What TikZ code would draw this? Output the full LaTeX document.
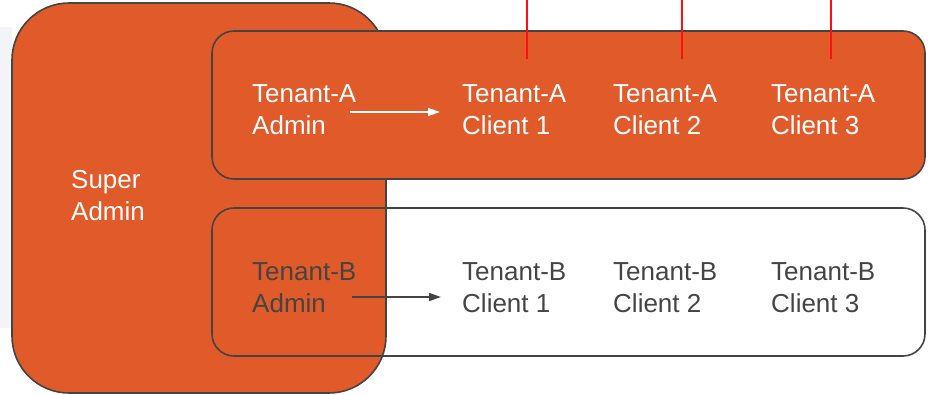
\documentclass[tikz,border=0pt]{standalone}
\usepackage{fontspec}
\setmainfont{Liberation Sans}
\usetikzlibrary{arrows.meta}
\definecolor{boxorange}{HTML}{E05A2A}
\definecolor{edgegray}{HTML}{444444}
\definecolor{txtgray}{HTML}{444444}
\definecolor{faintbg}{HTML}{F3F4F8}
\definecolor{redline}{HTML}{FF1010}
\begin{document}
\begin{tikzpicture}[x=1pt,y=-1pt,
  lbl/.style={anchor=west,inner sep=0pt,align=left,font=\fontsize{26}{32}\selectfont},
  wlbl/.style={lbl,text=white},
  glbl/.style={lbl,text=txtgray},
  panel/.style={draw=edgegray,line width=1.6pt,rounded corners=22pt,minimum width=713pt,minimum height=148pt,inner sep=0pt},
  flow/.style={line width=1.5pt,-{Triangle[length=12pt,width=8pt]}},
  probe/.style={draw=redline,line width=1.6pt}]
\useasboundingbox (0,0) rectangle (928,394);
\fill[faintbg] (0,27) rectangle (12,328);
% Super Admin block
\node[fill=boxorange,draw=edgegray,line width=1.6pt,rounded corners=57pt,
  minimum width=374pt,minimum height=390pt,inner sep=0pt] (super) at (199,198) {};
% Tenant-B panel (outline only)
\node[panel] (tb) at (568.5,282) {};
% Tenant-A panel
\node[panel,fill=boxorange] (ta) at (568.5,105) {};
% labels
\node[wlbl] (sa) at (71,196) {Super\\Admin};
\node[wlbl] (aadm) at (252,109.5) {Tenant-A\\Admin};
\node[wlbl] (ac1) at (462,109.5) {Tenant-A\\Client 1};
\node[wlbl] (ac2) at (613,109.5) {Tenant-A\\Client 2};
\node[wlbl] (ac3) at (771,109.5) {Tenant-A\\Client 3};
\node[glbl] (badm) at (252,287.5) {Tenant-B\\Admin};
\node[glbl] (bc1) at (462,287.5) {Tenant-B\\Client 1};
\node[glbl] (bc2) at (613,287.5) {Tenant-B\\Client 2};
\node[glbl] (bc3) at (771,287.5) {Tenant-B\\Client 3};
% arrows
\coordinate (aas) at (350,112);
\coordinate (aae) at (440,112);
\coordinate (bas) at (352,297);
\coordinate (bae) at (441,297);
\draw[flow,draw=white,fill=white] (aas) -- (aae);
\draw[flow,draw=edgegray,fill=edgegray] (bas) -- (bae);
% red lines
\coordinate (r1t) at (527,0); \coordinate (r1b) at (527,59);
\coordinate (r2t) at (682,0); \coordinate (r2b) at (682,59);
\coordinate (r3t) at (831,0); \coordinate (r3b) at (831,59);
\draw[probe] (r1t) -- (r1b);
\draw[probe] (r2t) -- (r2b);
\draw[probe] (r3t) -- (r3b);
\end{tikzpicture}
\end{document}
